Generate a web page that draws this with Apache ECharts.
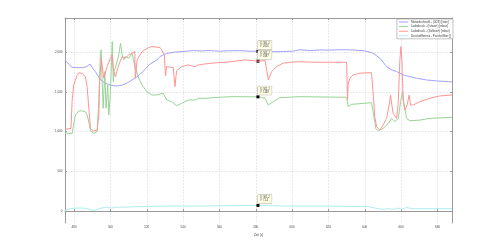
<!DOCTYPE html>
<html><head><meta charset="utf-8">
<script src="https://cdn.jsdelivr.net/npm/echarts@6/dist/echarts.min.js"></script>
<style>html,body{margin:0;padding:0;background:#fff}#c{width:500px;height:251px}</style>
</head><body><div id="c"></div>
<script>
const xTicks = [480, 500, 520, 540, 560, 580, 600, 620, 640, 660, 680];
const yTicks = [0, 500, 1000, 1500, 2000];
const seriesNames = [
  'Motordrehzahl - (G28) [/min]',
  'Ladedruck - (Istwert) [mbar]',
  'Ladedruck - (Sollwert) [mbar]',
  'Druckdifferenz - Partikelfilter []'
];
const seriesColors = ['#a2a2ff', '#98d498', '#ff9494', '#aeeeee'];

const rpmT = [475,477.1,478.7,482.6,485.1,487.0,488.8,490.5,491.7,494.3,497,500.9,504,506.4,509,512.6,516.3,521.8,525.5,527.3,531,535.5,539.9,545.6,550,555,560,565,571.3,576.8,581.2,585,590,595.1,600,604.3,610,615,620,625,630,635,640,644.5,648.3,652,654.5,657.5,661.1,664.8,668.5,674,679.5,684,688];
const rpmV = [1900,1850,1810,1805,1805,1820,1850,1790,1756,1660,1610,1580,1575,1585,1610,1660,1720,1850,1900,1945,1985,2000,2008,2020,2015,2020,2012,2017,2020,2012,2012,2015,2005,2008,2012,2030,2020,2028,2025,2030,2030,2025,2017,1988,1925,1818,1780,1756,1714,1692,1672,1650,1638,1632,1625];

const istT = [475,477.1,478.9,480.7,482.6,484.4,486.2,487.2,488.1,489.0,490.8,492.7,493.6,494.1,494.5,494.9,495.4,496.0,496.9,497.6,498.5,499.1,500.0,501.0,501.6,502.0,502.7,503.7,504.6,505.6,506.4,507.3,508.2,510.1,511.9,513.7,515.6,517.4,520.0,522.9,525.5,526.4,529.1,531.0,533.7,536.4,539.2,542.8,546.6,548.4,553.0,555.7,566.7,581.2,585.1,586.9,587.8,589.6,593.3,604.3,630.0,630.9,632.7,643.7,644.6,646.1,647.4,650.1,652.9,654.7,656.6,658.4,659.7,660.8,661.5,663.0,664.8,670.3,675.8,688];
const istV = [985,977,975,1209,1260,1262,1250,1209,1124,1019,977,1000,1377,1714,1967,2030,1672,1293,1756,1293,1588,1209,1503,2134,1630,1756,1798,1818,1967,2113,1967,1903,1945,1925,1988,1798,1672,1588,1503,1461,1461,1483,1483,1398,1377,1326,1356,1398,1398,1420,1420,1427,1440,1438,1420,1335,1322,1377,1427,1440,1432,1314,1343,1364,1250,1040,1010,1040,1103,1167,1124,1167,1377,1503,1356,1167,1137,1145,1167,1180];

const sollT = [475,478.3,478.9,479.8,481.5,482.6,484.4,486.2,487.2,488.1,489.0,490.8,492.7,493.6,494.1,494.9,495.4,496.3,498.2,500.0,500.9,501.8,502.7,504.6,506.4,508.2,510.1,511.9,513.4,513.7,514.7,517.4,521.1,522.9,527.3,528.2,529.7,530.0,530.4,530.8,534.6,535.5,536.4,539.2,542.8,546.6,548.4,555.7,566.7,574.1,581.2,585.1,586.0,586.9,587.8,588.7,591.5,595.1,602.5,613.5,628.1,630.0,630.5,630.9,631.8,633.6,637.3,643.7,644.6,645.5,646.5,648.3,650.1,652.0,653.4,654.2,654.9,655.6,657.5,658.4,659.3,659.9,660.4,661.1,662.1,663.3,664.4,665.2,666.6,670.3,675.8,681.3,688];
const sollV = [1030,1040,1377,1588,1700,1740,1735,1690,1560,1300,1040,1007,1020,1209,1630,1925,1840,1672,1818,1925,1967,1756,1692,1840,1945,1925,1967,1988,2008,1672,1903,2008,2059,2071,2059,2030,1967,1818,1700,1818,1806,1566,1765,1818,1840,1818,1840,1862,1880,1903,1887,1894,1777,1650,1650,1756,1818,1862,1880,1873,1873,1873,1398,1609,1672,1714,1735,1743,1483,1187,1061,1019,1082,1167,1335,1461,1335,1230,1167,1356,1903,2071,1903,1398,1272,1335,1461,1335,1335,1377,1420,1449,1461];

const dpT = [475,477.8,481.5,485.1,488.8,490.6,492.5,495.2,498.0,500.7,503.5,509.0,520.0,532.8,545.6,564.0,581.2,597.9,616.2,630.9,641.9,645.5,649.2,652.9,655.6,658.4,660.2,663.0,665.7,674.9,688];
const dpV = [9,30,38,38,21,9,18,38,50,38,50,50,59,63,63,68,71.4,63,63,59,59,38,21,30,21,38,21,47,30,30,30];

const tipX = 581.2;
const tipY = [2010, 1438, 1887, 71.4];

function zip(t, v) { return t.map((x, i) => [x, v[i]]); }
const allData = [zip(rpmT, rpmV), zip(istT, istV), zip(sollT, sollV), zip(dpT, dpV)];

const chart = echarts.init(document.getElementById('c'), null, {renderer: 'canvas'});
const axisLineStyle = {color: '#9a9a9a', width: 1};
const font = 'Liberation Sans';

const series = allData.map((d, i) => ({
  name: seriesNames[i],
  type: 'line',
  data: d,
  showSymbol: false,
  symbol: 'none',
  lineStyle: {color: seriesColors[i], width: 1},
  itemStyle: {color: seriesColors[i]},
  z: [3, 4, 5, 2][i],
  animation: false,
  markPoint: {
    symbol: 'rect',
    symbolSize: 3,
    itemStyle: {color: '#000'},
    data: [{coord: [tipX, tipY[i]]}],
    label: {
      show: true,
      position: [1.5, -9],
      align: 'left',
      verticalAlign: 'top',
      formatter: 'X: ' + tipX + '\nY: ' + tipY[i],
      fontSize: 2.6,
      lineHeight: 3.2,
      fontFamily: font,
      color: '#333',
      backgroundColor: '#ffffe6',
      borderColor: '#b0b0a0',
      borderWidth: 0.5,
      padding: [1, 2]
    }
  }
}));

chart.setOption({
  animation: false,
  backgroundColor: '#fff',
  grid: {left: 65, top: 18, right: 48, bottom: 28, containLabel: false},
  legend: {
    data: seriesNames,
    orient: 'vertical',
    right: 47,
    top: 19,
    icon: 'rect',
    itemWidth: 9,
    itemHeight: 1,
    itemGap: 1.6,
    padding: [1.5, 2, 1.5, 2],
    backgroundColor: '#fff',
    borderColor: '#999',
    borderWidth: 0.6,
    textStyle: {fontSize: 3, fontFamily: font, color: '#444', padding: [0, 0, 0, -2]}
  },
  xAxis: [{
    type: 'value', min: 475, max: 688,
    name: 'Zeit [s]', nameLocation: 'middle', nameGap: 7,
    nameTextStyle: {fontSize: 3, fontFamily: font, color: '#444'},
    axisLine: {show: true, lineStyle: axisLineStyle},
    axisTick: {show: true, inside: true, length: 2, customValues: xTicks, lineStyle: axisLineStyle},
    axisLabel: {customValues: xTicks, fontSize: 3, fontFamily: font, color: '#444', margin: 2.5},
    splitLine: {show: true, lineStyle: {color: '#dcdcdc', type: [2, 1], width: 0.6}}
  }, {
    type: 'value', min: 475, max: 688, position: 'top',
    axisLine: {show: true, onZero: false, lineStyle: axisLineStyle},
    axisTick: {show: true, inside: true, length: 2, customValues: xTicks, lineStyle: axisLineStyle},
    axisLabel: {show: false, customValues: xTicks},
    splitLine: {show: false}
  }],
  yAxis: [{
    type: 'value', min: -150, max: 2430,
    axisLine: {show: true, onZero: false, lineStyle: axisLineStyle},
    axisTick: {show: true, inside: true, length: 2, customValues: yTicks, lineStyle: axisLineStyle},
    axisLabel: {customValues: yTicks, fontSize: 3, fontFamily: font, color: '#444', margin: 2.5},
    splitLine: {show: true, lineStyle: {color: '#dcdcdc', type: [2, 1], width: 0.6}}
  }, {
    type: 'value', min: -150, max: 2430, position: 'right',
    axisLine: {show: true, onZero: false, lineStyle: axisLineStyle},
    axisTick: {show: true, inside: true, length: 2, customValues: yTicks, lineStyle: axisLineStyle},
    axisLabel: {show: false, customValues: yTicks},
    splitLine: {show: false}
  }],
  series: series
});
</script>
</body></html>
